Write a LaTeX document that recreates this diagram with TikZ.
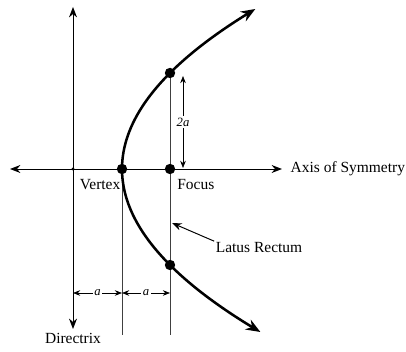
\documentclass[tikz,border=0pt]{standalone}
\usepackage{fontspec}
\setmainfont{Liberation Serif}
\usetikzlibrary{positioning, arrows.meta, calc}
\tikzset{
  curve/.style   = {line width=1.8pt, {Stealth[length=3.6mm, width=2.8mm]}-{Stealth[length=3.6mm, width=2.8mm]}},
  axis/.style    = {line width=0.7pt, {Stealth[length=2.6mm, width=2mm]}-{Stealth[length=2.6mm, width=2mm]}},
  guide/.style   = {line width=0.55pt, draw=black!75},
  dim/.style     = {line width=0.5pt, {Stealth[length=1.8mm, width=1.4mm]}-{Stealth[length=1.8mm, width=1.4mm]}},
  pointer/.style = {line width=0.7pt, -{Stealth[length=2.4mm, width=1.8mm]}},
  spot/.style    = {circle, fill=black, inner sep=0pt, minimum size=2.6mm},
  lab/.style     = {font=\fontsize{11}{13}\selectfont, inner sep=1pt},
  dimlab/.style  = {font=\itshape\small, fill=white, inner sep=1pt},
}

\begin{document}
\begin{tikzpicture}[x=0.025cm, y=-0.025cm]

\useasboundingbox (0,0) rectangle (406,352);

% Key points (pixel grid, parabola with a = 48)
\coordinate (vertex)  at (122,169);
\coordinate (focus)   at (170,169);
\coordinate (lrtop)   at (170,73);
\coordinate (lrbot)   at (170,265);
\coordinate (axleft)  at (10,169);
\coordinate (axright) at (282,169);
\coordinate (dirtop)  at (73,7);
\coordinate (dirbot)  at (73,329);
\coordinate (dirfoot) at (73,169);
\coordinate (vfoot)   at (122,335);
\coordinate (ffoot)   at (170,335);

% Axis of symmetry and directrix
\draw [axis] (axleft) -- (axright);
\draw [axis] (dirtop) -- (dirbot);
\node (axlab)  [lab, right=5pt of axright] {Axis of Symmetry};
\node (dirlab) [lab, below=2pt of dirbot]  {Directrix};

% Latus rectum and drop lines
\draw [guide] (lrtop) -- (ffoot);
\draw [guide] (vertex) -- (vfoot);

% The parabola
\draw [curve] plot[domain=-160:163, samples=80, smooth] ({122+(\x/16)*(\x/12)},{169+\x});

% Points
\node (pv)  [spot] at (vertex) {};
\node (pf)  [spot] at (focus)  {};
\node (pt1) [spot] at (lrtop)  {};
\node (pt2) [spot] at (lrbot)  {};
\fill (dirfoot) circle (1.6);

\node (vxlab) [lab, below left=6pt and 0pt of vertex] {Vertex};
\node (fclab) [lab, below right=6pt and 4pt of focus] {Focus};

% 2a between focus and end of latus rectum
\coordinate (ttop) at (183,76);
\coordinate (tbot) at (183,168);
\draw [dim] (ttop) -- node[dimlab] {2a} (tbot);

% Distances a along the bottom
\coordinate (dimL) at (73,293);
\coordinate (dimM) at (122,293);
\coordinate (dimR) at (170,293);
\draw [dim] (dimL) -- node[dimlab] {a} (dimM);
\draw [dim] (dimM) -- node[dimlab] {a} (dimR);

% Latus rectum label
\node (lrlab) [lab] at (259,248) {Latus Rectum};
\coordinate (lrmark) at (172,223);
\draw [pointer] (lrlab.north west) -- (lrmark);

\end{tikzpicture}
\end{document}
